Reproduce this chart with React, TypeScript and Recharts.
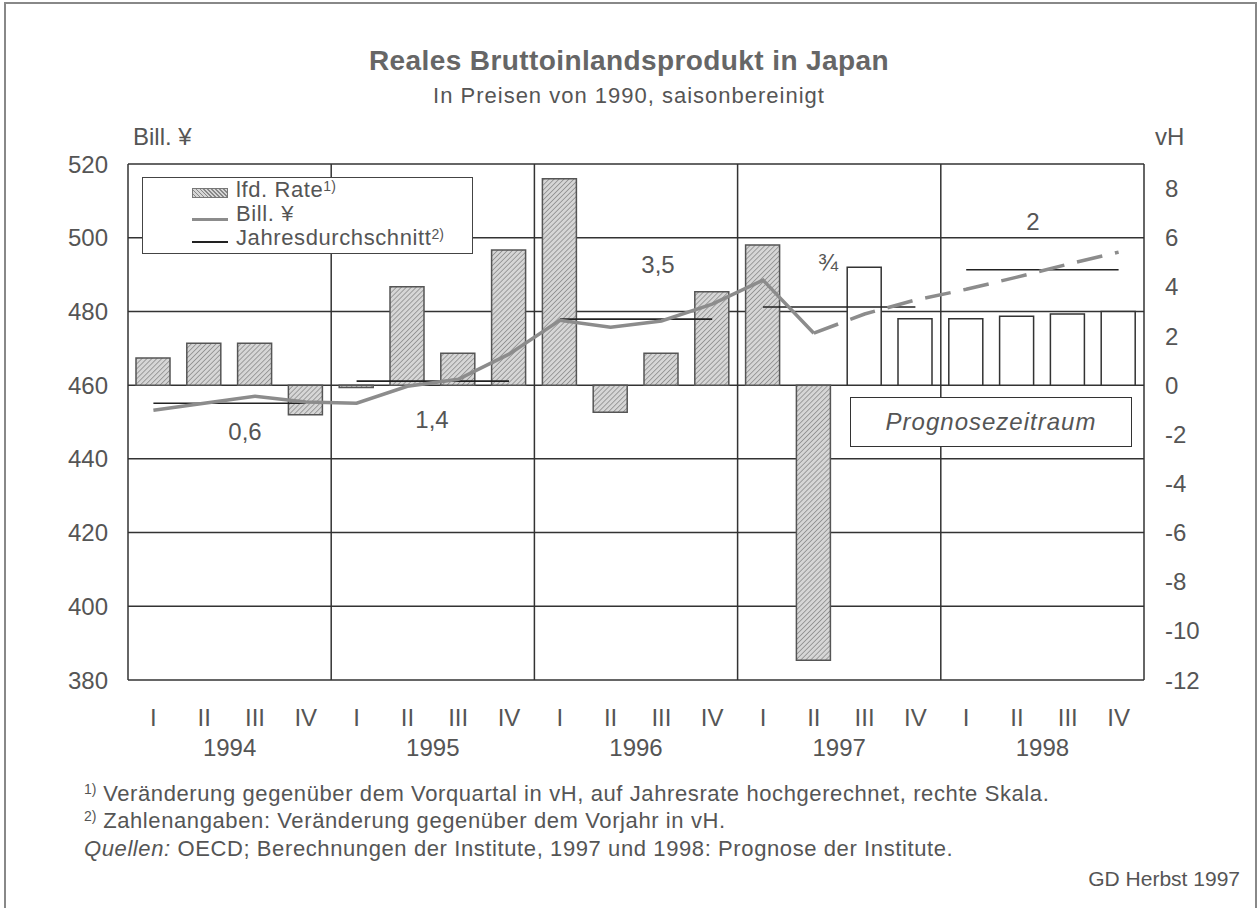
import React from 'react';
import { ComposedChart, Bar, Line, XAxis, YAxis, CartesianGrid, ReferenceLine, Cell } from 'recharts';

const years = ['1994', '1995', '1996', '1997', '1998'];
const quarters = ['I', 'II', 'III', 'IV'];
// lfd. Rate (vH, right scale)
const rateVH = [1.1, 1.7, 1.7, -1.2, -0.1, 4.0, 1.3, 5.5, 8.4, -1.1, 1.3, 3.8, 5.7, -11.2, 4.8, 2.7, 2.7, 2.8, 2.9, 3.0];
// Bill. ¥ (left scale) actual
const gdpActual = [453.2, 455.1, 457.0, 455.4, 455.1, 459.7, 461.6, 468.4, 477.6, 475.7, 477.4, 482.0, 488.5, 474.1, null, null, null, null, null, null];
// Bill. ¥ forecast
const gdpForecast = [null, null, null, null, null, null, null, null, null, null, null, null, null, 474.1, 479.3, 483.1, 486.0, 489.3, 492.8, 496.1];
// Jahresdurchschnitt (left scale)
const annualAvg = [455.1, 461.1, 477.9, 481.2, 491.3];
const annualChange = ['0,6', '1,4', '3,5', '¾', '2'];
const forecastStartIndex = 14;
const leftTicks = [380, 400, 420, 440, 460, 480, 500, 520];
const rightTicks = [-12, -10, -8, -6, -4, -2, 0, 2, 4, 6, 8];

const data = rateVH.map((r, i) => ({
  idx: i,
  q: `${years[Math.floor(i / 4)]}-${quarters[i % 4]}`,
  rate: r,
  gdp: gdpActual[i],
  gdpF: gdpForecast[i],
}));

const FONT = '"Liberation Sans", Arial, sans-serif';
const TXT = '#555';
const tickStyle = { fontSize: 24, fill: TXT, fontFamily: FONT };

const yearCenters = years.map((_, i) => i * 4 + 1.5);
const yearBounds = [-0.5, 3.5, 7.5, 11.5, 15.5, 19.5];

const annualLabelPos = [
  { left: 245, top: 432 },
  { left: 432, top: 420 },
  { left: 658, top: 265 },
  { left: 828, top: 263 },
  { left: 1033, top: 222 },
];

const sup = { fontSize: 14, verticalAlign: 'top', lineHeight: '16px', letterSpacing: 0 } as const;
const legendText = { position: 'absolute', left: 93, fontSize: 22, letterSpacing: 0.6, lineHeight: '23px', height: 23, whiteSpace: 'nowrap' } as const;

export default function App() {
  return (
    <div style={{ position: 'absolute', left: 0, top: 0, width: 1258, height: 908, background: '#fff', fontFamily: FONT, color: TXT, overflow: 'hidden' }}>
      <div style={{ position: 'absolute', left: 4, top: 2, width: 1249, height: 930, borderLeft: '2px solid #888', borderTop: '2px solid #888', borderRight: '2px solid #888' }} />
      <div style={{ position: 'absolute', left: 0, width: 1258, top: 45, textAlign: 'center', fontSize: 28, fontWeight: 'bold', letterSpacing: 0.4, color: '#666' }}>Reales Bruttoinlandsprodukt in Japan</div>
      <div style={{ position: 'absolute', left: 0, width: 1258, top: 83, textAlign: 'center', fontSize: 22, letterSpacing: 1, color: TXT }}>In Preisen von 1990, saisonbereinigt</div>
      <div style={{ position: 'absolute', left: 133, top: 123, fontSize: 24, color: TXT }}>Bill. ¥</div>
      <div style={{ position: 'absolute', left: 1155, top: 123, fontSize: 24, color: TXT }}>vH</div>

      <div style={{ position: 'absolute', left: 0, top: 0 }}>
        <ComposedChart width={1258} height={908} data={data} margin={{ top: 164, right: 0, bottom: 137, left: 0 }}>
          <defs>
            <pattern id="hatch" patternUnits="userSpaceOnUse" width="3.5" height="3.5" patternTransform="rotate(45)">
              <rect width="3.5" height="3.5" fill="#d6d6d6" />
              <line x1="0" y1="0" x2="0" y2="3.5" stroke="#888" strokeWidth="1.5" />
            </pattern>
          </defs>
          <CartesianGrid xAxisId="q" yAxisId="left" horizontal vertical={false} stroke="#333" strokeWidth={1.5} />
          <XAxis xAxisId="b" dataKey="idx" type="number" domain={[-0.5, 19.5]} ticks={yearBounds} allowDataOverflow height={1} axisLine={false} tick={false} tickLine={{ stroke: '#444', strokeWidth: 1.5 }} tickSize={9} />
          <XAxis xAxisId="q" dataKey="q" type="category" height={50} axisLine={false} tickLine={false} tickSize={0} tickMargin={28} interval={0}
            tick={tickStyle} tickFormatter={(v: string) => v.split('-')[1]} />
          <XAxis xAxisId="yr" dataKey="idx" type="number" domain={[-0.5, 19.5]} ticks={yearCenters} allowDataOverflow height={40} axisLine={false} tickLine={false} tickSize={0} tickMargin={8}
            tick={tickStyle} tickFormatter={(v: number) => years[Math.round((v - 1.5) / 4)]} />
          <YAxis yAxisId="left" orientation="left" width={128} domain={[380, 520]} ticks={leftTicks} allowDataOverflow
            axisLine={{ stroke: '#333', strokeWidth: 1.5 }} tickLine={false} tickSize={0} tickMargin={20} tick={tickStyle} />
          <YAxis yAxisId="right" orientation="right" width={114} domain={[-12, 9]} ticks={rightTicks} allowDataOverflow
            axisLine={{ stroke: '#333', strokeWidth: 1.5 }} tickLine={false} tickSize={0} tickMargin={21} tick={tickStyle} />
          {yearBounds.slice(1, 5).map((b) => (
            <ReferenceLine key={`yb${b}`} xAxisId="b" yAxisId="left" x={b} stroke="#333" strokeWidth={1.5} />
          ))}
          <Bar xAxisId="q" yAxisId="right" dataKey="rate" barSize={34} isAnimationActive={false}>
            {data.map((d, i) => (
              <Cell key={`c${i}`} fill={i >= forecastStartIndex ? '#ffffff' : 'url(#hatch)'} stroke={i >= forecastStartIndex ? '#333' : '#555'} strokeWidth={1.5} />
            ))}
          </Bar>
          {annualAvg.map((v, i) => (
            <ReferenceLine key={`avg${i}`} xAxisId="b" yAxisId="left" stroke="#222" strokeWidth={1.6}
              segment={[{ x: i * 4, y: v }, { x: i * 4 + 3, y: v }]} />
          ))}
          <Line xAxisId="q" yAxisId="left" dataKey="gdp" stroke="#8c8c8c" strokeWidth={3.5} dot={false} connectNulls={false} isAnimationActive={false} />
          <Line xAxisId="q" yAxisId="left" dataKey="gdpF" stroke="#8c8c8c" strokeWidth={3.5} strokeDasharray="26 13" dot={false} connectNulls={false} isAnimationActive={false} />
        </ComposedChart>
      </div>

      {annualChange.map((t, i) => (
        <div key={`al${i}`} style={{ position: 'absolute', left: annualLabelPos[i].left - 40, top: annualLabelPos[i].top - 14, width: 80, textAlign: 'center', fontSize: 24, color: TXT }}>{t}</div>
      ))}

      <div style={{ position: 'absolute', left: 142, top: 177, width: 331, height: 77, border: '1.5px solid #444', background: '#fff', boxSizing: 'border-box' }}>
        <div style={{ position: 'absolute', left: 49, top: 10, width: 36, height: 10, border: '1px solid #777', boxSizing: 'border-box', background: 'repeating-linear-gradient(45deg, #d6d6d6 0px, #d6d6d6 1.5px, #888 1.5px, #888 2.8px)' }} />
        <div style={{ ...legendText, top: 0 }}>lfd. Rate<sup style={sup}>1)</sup></div>
        <div style={{ position: 'absolute', left: 49, top: 40, width: 36, height: 3, background: '#8c8c8c' }} />
        <div style={{ ...legendText, top: 24 }}>Bill. ¥</div>
        <div style={{ position: 'absolute', left: 49, top: 63, width: 36, height: 1.5, background: '#222' }} />
        <div style={{ ...legendText, top: 48 }}>Jahresdurchschnitt<sup style={sup}>2)</sup></div>
      </div>

      <div style={{ position: 'absolute', left: 850, top: 397, width: 282, height: 50, border: '1.5px solid #333', background: '#fff', boxSizing: 'border-box', display: 'flex', alignItems: 'center', justifyContent: 'center', fontSize: 24, letterSpacing: 1, fontStyle: 'italic', color: TXT }}>Prognosezeitraum</div>

      <div style={{ position: 'absolute', left: 84, top: 781, fontSize: 22, letterSpacing: 0.6, whiteSpace: 'nowrap' }}><sup style={sup}>1)</sup> Veränderung gegenüber dem Vorquartal in vH, auf Jahresrate hochgerechnet, rechte Skala.</div>
      <div style={{ position: 'absolute', left: 84, top: 808, fontSize: 22, letterSpacing: 0.6, whiteSpace: 'nowrap' }}><sup style={sup}>2)</sup> Zahlenangaben: Veränderung gegenüber dem Vorjahr in vH.</div>
      <div style={{ position: 'absolute', left: 84, top: 836, fontSize: 22, letterSpacing: 0.6, whiteSpace: 'nowrap' }}><i>Quellen:</i> OECD; Berechnungen der Institute, 1997 und 1998: Prognose der Institute.</div>
      <div style={{ position: 'absolute', right: 18, top: 867, fontSize: 21, whiteSpace: 'nowrap' }}>GD Herbst 1997</div>
    </div>
  );
}
